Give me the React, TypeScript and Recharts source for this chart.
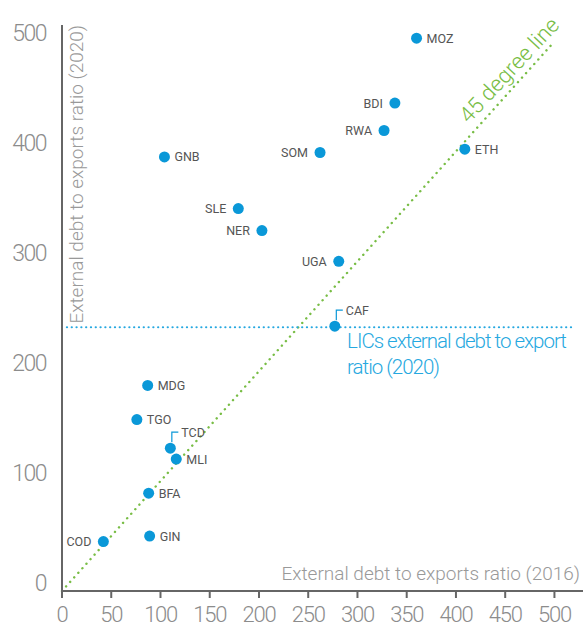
import { ReferenceDot, ReferenceLine, Scatter, ScatterChart, XAxis, YAxis } from "recharts";

// Country codes with external debt to exports ratios
const codes = ["MOZ", "BDI", "RWA", "SOM", "ETH", "GNB", "SLE", "NER", "UGA", "CAF", "MDG", "TGO", "TCD", "MLI", "BFA", "GIN", "COD"];
const ratio2016 = [360, 338, 327, 262, 409, 104, 179, 203, 281, 277, 87, 76, 110, 116, 88, 89, 42];
const ratio2020 = [503, 444, 419, 399, 402, 395, 348, 328, 300, 241, 187, 156, 130, 120, 89, 50, 45];

const leftLabels = ["BDI", "RWA", "SOM", "SLE", "NER", "UGA", "COD"];
const leaderLabels = ["TCD", "CAF"];

const xTicks = [0, 50, 100, 150, 200, 250, 300, 350, 400, 450, 500];
const yTicks = [0, 100, 200, 300, 400, 500];

const licRatio2020 = 240;
const diagonal = [
  { x: 0, y: 0 },
  { x: 500, y: 500 },
];

const data = codes.map((code, i) => ({ code, x: ratio2016[i], y: ratio2020[i] }));

const BLUE = "#0a98d8";
const LIGHT_BLUE = "#26a8e0";
const GREEN = "#78bd45";
const AXIS = "#666";
const TICK = "#8c8c8c";
const FONT = "Roboto, 'Noto Sans', sans-serif";

function CountryDot(props: any) {
  const { cx, cy, payload } = props;
  const code: string = payload.code;
  const labelStyle = { fontFamily: FONT, fontSize: 12.5, fill: "#555" };
  let label;
  if (leaderLabels.includes(code)) {
    label = (
      <g>
        <polyline
          points={`${cx + 1.5},${cy - 6} ${cx + 1.5},${cy - 16} ${cx + 8},${cy - 16}`}
          fill="none"
          stroke={BLUE}
          strokeWidth={1.2}
        />
        <text x={cx + 11} y={cy - 11.5} {...labelStyle}>
          {code}
        </text>
      </g>
    );
  } else if (leftLabels.includes(code)) {
    label = (
      <text x={cx - 12} y={cy + 4.5} textAnchor="end" {...labelStyle}>
        {code}
      </text>
    );
  } else {
    label = (
      <text x={cx + 10} y={cy + 4.5} {...labelStyle}>
        {code}
      </text>
    );
  }
  return (
    <g>
      <circle cx={cx} cy={cy} r={5.5} fill={BLUE} />
      {label}
    </g>
  );
}

function YTick({ x, y, payload }: any) {
  return (
    <text x={x} y={y} textAnchor="end" fill={TICK} fontFamily={FONT} fontWeight={300} fontSize={23} letterSpacing={-1.5}>
      {payload.value}
    </text>
  );
}

function XTick({ x, y, payload }: any) {
  return (
    <text x={x} y={y} dy={24} textAnchor="middle" fill={TICK} fontFamily={FONT} fontWeight={300} fontSize={22} letterSpacing={-1.3}>
      {payload.value}
    </text>
  );
}

export default function App() {
  return (
    <div style={{ position: "absolute", left: 0, top: 0, background: "#fff" }}>
      <ScatterChart width={583} height={627} margin={{ top: 25, right: 0, bottom: 0, left: 0 }}>
        <XAxis
          type="number"
          dataKey="x"
          domain={[0, 529]}
          ticks={xTicks}
          height={36}
          axisLine={{ stroke: AXIS, strokeWidth: 2 }}
          tickLine={{ stroke: AXIS, strokeWidth: 2 }}
          tickSize={7}
          tickMargin={0}
          tick={<XTick />}
          label={{
            content: ({ viewBox }: any) => (
              <text
                x={viewBox.x + viewBox.width - 3}
                y={viewBox.y - 11}
                textAnchor="end"
                fill="#999"
                fontFamily={FONT}
                fontWeight={300}
                fontSize={19}
              >
                External debt to exports ratio (2016)
              </text>
            ),
          }}
        />
        <YAxis
          type="number"
          dataKey="y"
          domain={[0, 515]}
          ticks={yTicks}
          width={62}
          axisLine={{ stroke: AXIS, strokeWidth: 2 }}
          tickLine={false}
          tickSize={0}
          tickMargin={16}
          tick={<YTick />}
          label={{
            content: ({ viewBox }: any) => {
              const tx = viewBox.x + viewBox.width + 21;
              const ty = viewBox.y;
              return (
                <text
                  x={tx}
                  y={ty}
                  transform={`rotate(-90 ${tx} ${ty})`}
                  textAnchor="end"
                  fill="#999"
                  fontFamily={FONT}
                  fontWeight={300}
                  fontSize={19}
                >
                  External debt to exports ratio (2020)
                </text>
              );
            },
          }}
        />
        <ReferenceLine
          segment={diagonal}
          stroke={GREEN}
          strokeWidth={2.4}
          strokeDasharray="0.1 6"
          strokeLinecap="round"
        />
        <ReferenceLine
          segment={[
            { x: 5, y: licRatio2020 },
            { x: 518, y: licRatio2020 },
          ]}
          stroke={LIGHT_BLUE}
          strokeWidth={2.2}
          strokeDasharray="0.1 4.7"
          strokeLinecap="round"
        />
        <ReferenceDot
          x={289.5}
          y={licRatio2020}
          r={0}
          shape={(p: any) => (
            <text x={p.cx} y={p.cy} fill={LIGHT_BLUE} fontFamily={FONT} fontWeight={300} fontSize={20.5} letterSpacing={-1}>
              <tspan x={p.cx} dy={21}>
                LICs external debt to export
              </tspan>
              <tspan x={p.cx} dy={26}>
                ratio (2020)
              </tspan>
            </text>
          )}
        />
        <ReferenceDot
          x={454}
          y={474}
          r={0}
          shape={(p: any) => (
            <text
              x={p.cx}
              y={p.cy}
              transform={`rotate(-47 ${p.cx} ${p.cy})`}
              textAnchor="middle"
              dominantBaseline="central"
              fill={GREEN}
              fontFamily={FONT}
              fontWeight={300}
              fontSize={22}
            >
              45 degree line
            </text>
          )}
        />
        <Scatter data={data} shape={<CountryDot />} isAnimationActive={false} />
      </ScatterChart>
    </div>
  );
}
